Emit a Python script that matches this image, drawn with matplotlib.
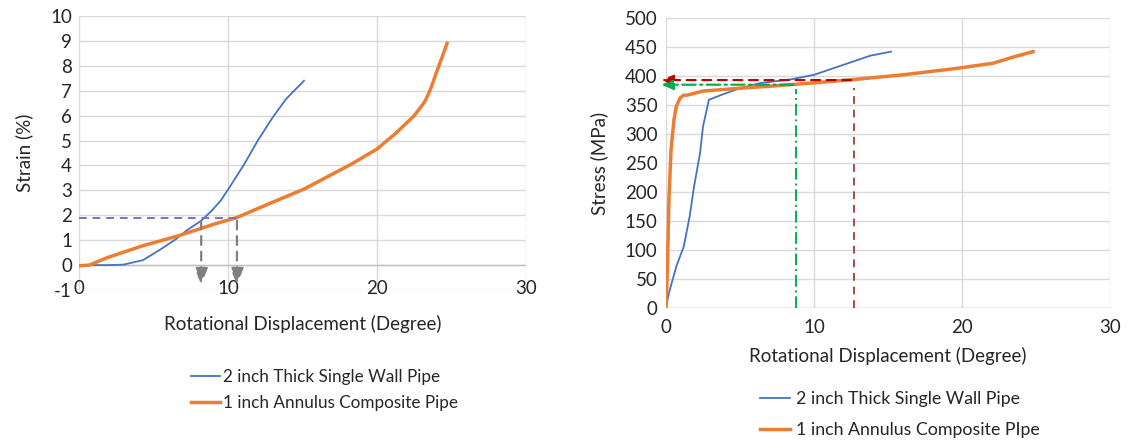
import matplotlib
matplotlib.use("Agg")
import matplotlib.pyplot as plt

# ---------------- data ----------------
# Left chart: strain vs rotational displacement
strain_single_x = [0, 1.0, 2.0, 3.0, 4.3, 5.5, 6.5, 7.2, 8.2, 8.9, 9.5, 10.1, 11.1, 12.0, 13.0, 13.9, 15.1]
strain_single_y = [0, 0, 0, 0.02, 0.2, 0.64, 1.04, 1.38, 1.78, 2.18, 2.58, 3.12, 4.06, 5.0, 5.93, 6.67, 7.4]
strain_comp_x = [0, 0.7, 1.9, 4.3, 6.7, 9.1, 10.6, 12.7, 15.1, 18.3, 20.0, 21.2, 22.5, 23.2, 23.6, 24.0, 24.4, 24.7]
strain_comp_y = [-0.03, 0, 0.3, 0.78, 1.18, 1.65, 1.91, 2.45, 3.05, 4.06, 4.66, 5.26, 6.0, 6.55, 7.07, 7.75, 8.4, 8.9]
strain_ref_level = 1.9
strain_ref_x = [8.2, 10.6]

# Right chart: stress vs rotational displacement
stress_single_x = [0, 0.2, 0.7, 1.2, 1.6, 1.9, 2.3, 2.5, 2.9, 3.8, 5.0, 6.4, 8.4, 10.0, 12.3, 13.8, 15.2]
stress_single_y = [0, 26, 72, 106, 158, 210, 267, 313, 359, 368, 379, 388, 394, 402, 422, 435, 442]
stress_comp_x = [0, 0.1, 0.2, 0.34, 0.54, 0.7, 0.95, 1.2, 1.44, 2.5, 5.0, 7.4, 9.9, 12.7, 16.0, 19.6, 22.1, 23.5, 24.8]
stress_comp_y = [0, 72, 187, 273, 325, 348, 362, 367, 367, 374, 379, 383, 388, 394, 402, 413, 422, 433, 442]
stress_ref_single = (8.8, 385)
stress_ref_comp = (12.7, 393)

x_ticks = [0, 10, 20, 30]
strain_ticks = list(range(-1, 11))
stress_ticks = list(range(0, 501, 50))

label_single = "2 inch Thick Single Wall Pipe"
label_comp_left = "1 inch Annulus Composite Pipe"
label_comp_right = "1 inch Annulus Composite PIpe"
x_title = "Rotational Displacement (Degree)"

BLUE = "#4472C4"
ORANGE = "#ED7D31"
GRID = "#D9D9D9"
TXT = "#262626"

plt.rcParams['font.family'] = ['Lato', 'DejaVu Sans']
plt.rcParams['axes.unicode_minus'] = False
FS = 13.5

fig = plt.figure(figsize=(11.31, 4.44), dpi=100)

# ---------------- left chart ----------------
ax1 = fig.add_axes([79/1131, 1-290/444, (526-79)/1131, 274/444])
ax1.set_xlim(0, 30)
ax1.set_ylim(-1, 10)
ax1.set_xticks(x_ticks)
ax1.set_yticks(strain_ticks)
ax1.grid(True, color=GRID, lw=1)
ax1.set_axisbelow(True)
for s in ax1.spines.values():
    s.set_visible(False)
ax1.axhline(0, color="#BFBFBF", lw=1, zorder=1)
ax1.tick_params(axis='both', length=0, labelsize=FS, colors=TXT)
ax1.tick_params(axis='x', pad=-7)
ax1.tick_params(axis='y', pad=5)

ax1.plot(strain_single_x, strain_single_y, color=BLUE, lw=1.3, label=label_single, zorder=3)
ax1.plot(strain_comp_x, strain_comp_y, color=ORANGE, lw=2.5, label=label_comp_left, zorder=3)

ax1.plot([0, strain_ref_x[1]], [strain_ref_level]*2, color="#7F6FBF", lw=1.4, ls=(0, (4, 3)), zorder=4)
for xv in strain_ref_x:
    ax1.annotate("", xy=(xv, -0.9), xytext=(xv, strain_ref_level),
                 arrowprops=dict(arrowstyle="-|>,head_width=0.4,head_length=1.0",
                                 color="#808080", lw=1.6, ls=(0, (4, 3))), zorder=4)

ax1.set_ylabel("Strain (%)", fontsize=FS, color=TXT, labelpad=12)
ax1.set_xlabel(x_title, fontsize=FS, color=TXT, labelpad=13)
ax1.legend(loc='upper left', bbox_to_anchor=(176/1131, 1-354/444), bbox_transform=fig.transFigure,
           frameon=False, fontsize=12.3, handlelength=1.7, handletextpad=0.15, labelspacing=0.55,
           labelcolor=TXT)

# ---------------- right chart ----------------
ax2 = fig.add_axes([666/1131, 1-308/444, (1110-666)/1131, 290/444])
ax2.set_xlim(0, 30)
ax2.set_ylim(0, 500)
ax2.set_xticks(x_ticks)
ax2.set_yticks(stress_ticks)
ax2.grid(True, color=GRID, lw=1)
ax2.set_axisbelow(True)
for s in ax2.spines.values():
    s.set_visible(False)
ax2.axhline(0, color="#BFBFBF", lw=1, zorder=1)
ax2.tick_params(axis='both', length=0, labelsize=FS, colors=TXT)
ax2.tick_params(axis='x', pad=8)
ax2.tick_params(axis='y', pad=6)

ax2.plot(stress_single_x, stress_single_y, color=BLUE, lw=1.3, label=label_single, zorder=3)
ax2.plot(stress_comp_x, stress_comp_y, color=ORANGE, lw=2.5, label=label_comp_right, zorder=3)

# reference lines
gx, gy = stress_ref_single
rx, ry = stress_ref_comp
ax2.plot([gx, gx], [0, gy - 8], color="#00B050", lw=1.4, ls=(0, (6, 2, 1, 2)), zorder=4)
ax2.plot([rx, rx], [0, gy - 5], color="#A94A4A", lw=1.4, ls=(0, (4, 3)), zorder=4)
ax2.annotate("", xy=(-0.5, ry), xytext=(rx, ry),
             arrowprops=dict(arrowstyle="-|>,head_width=0.3,head_length=0.7",
                             color="#C00000", lw=1.6, ls=(0, (4, 3))), zorder=5, annotation_clip=False)
ax2.annotate("", xy=(-0.5, gy), xytext=(gx, gy),
             arrowprops=dict(arrowstyle="-|>,head_width=0.3,head_length=0.7",
                             color="#00B050", lw=1.6, ls=(0, (6, 2, 1, 2))), zorder=5, annotation_clip=False)

ax2.set_ylabel("Stress (MPa)", fontsize=FS, color=TXT, labelpad=12)
ax2.set_xlabel(x_title, fontsize=FS, color=TXT, labelpad=8)
ax2.legend(loc='upper left', bbox_to_anchor=(744/1131, 1-375/444), bbox_transform=fig.transFigure,
           frameon=False, fontsize=12.8, handlelength=1.7, handletextpad=0.3, labelspacing=0.85,
           labelcolor=TXT)

fig.savefig("out.png", dpi=100)
